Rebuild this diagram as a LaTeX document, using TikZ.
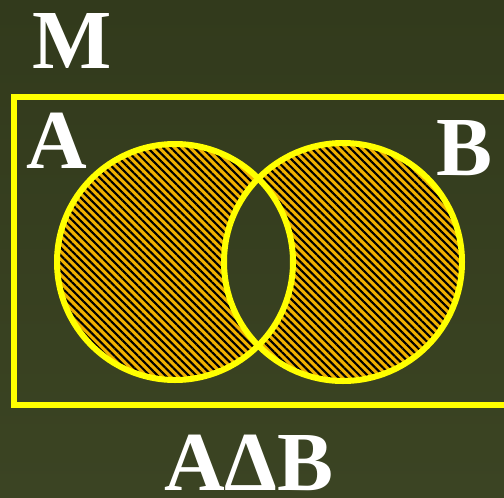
\documentclass[tikz,border=0pt]{standalone}
\usepackage{fontspec}
\setmainfont{Liberation Serif}
\usepackage{tikz}
\usetikzlibrary{patterns.meta}
\usetikzlibrary{positioning}

\definecolor{board}{HTML}{323A1C}
\definecolor{boardlow}{HTML}{3B4423}
\definecolor{chalkyellow}{HTML}{FFFF00}
\definecolor{hatchorange}{HTML}{F0B000}

\tikzset{
  setlabel/.style={anchor=base,text=white,inner sep=0pt,font=\fontsize{84}{90}\selectfont\bfseries},
  setline/.style={draw=chalkyellow,line width=6pt}
}

\begin{document}
\begin{tikzpicture}[x=1pt,y=-1pt]
\useasboundingbox (0,0) rectangle (504,498);
\clip (0,0) rectangle (504,498);
\shade[top color=board,bottom color=boardlow] (0,0) rectangle (504,498);

    % centres of the two sets
    \coordinate (cA) at (175,262);
    \coordinate (cB) at (343,262);

    % symmetric difference: even odd rule leaves the lens empty
    \fill[hatchorange,even odd rule] (cA) circle (118) (cB) circle (119);
    \fill[even odd rule,pattern={Lines[angle=-45,distance=5.5pt,line width=2.1pt]},pattern color=black]
      (cA) circle (118) (cB) circle (119);

    % universe and sets
    \draw[setline] (14,97) rectangle (520,405);
    \draw[setline] (cA) circle (118);
    \draw[setline] (cB) circle (119);

    \node[setlabel] (labM) at (72,68) {M};
    \node[setlabel] (labA) at (57,168) {A};
    \node[setlabel] (labB) at (465,175) {B};
    \node[setlabel] (labAB) at (249,490) {AΔB};

\end{tikzpicture}
\end{document}
